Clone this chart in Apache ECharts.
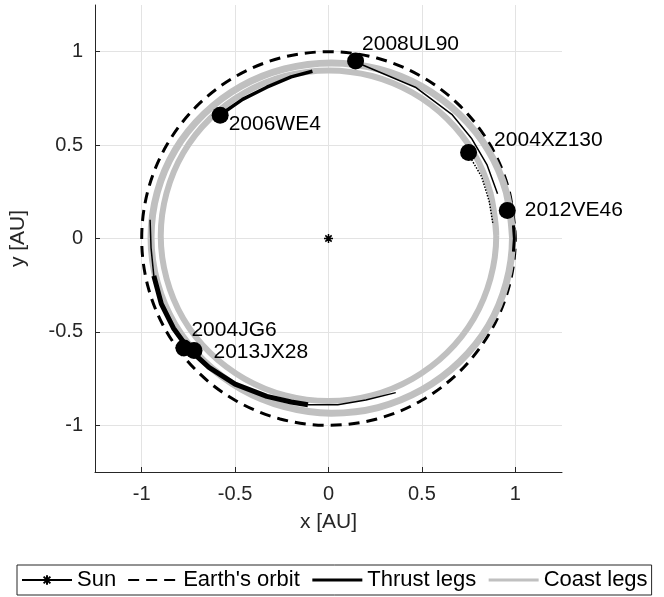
<!DOCTYPE html>
<html>
<head>
<meta charset="utf-8">
<script src="https://cdn.jsdelivr.net/npm/echarts@6/dist/echarts.min.js"></script>
<style>
  html, body { margin: 0; padding: 0; background: #fff; }
  #chart { width: 664px; height: 597px; }
</style>
</head>
<body>
<div id="chart"></div>
<script>
// axis ticks [AU]
var tickValues = [-1, -0.5, 0, 0.5, 1];

// Sun at the origin
var sunPos = [[0, 0]];

// Earth's orbit, read every 15 deg
var earthOrbit = [
  [1, 0], [0.966, 0.259], [0.866, 0.5], [0.707, 0.707], [0.5, 0.866], [0.259, 0.966],
  [0, 1], [-0.259, 0.966], [-0.5, 0.866], [-0.707, 0.707], [-0.866, 0.5], [-0.966, 0.259],
  [-1, 0], [-0.966, -0.259], [-0.866, -0.5], [-0.707, -0.707], [-0.5, -0.866], [-0.259, -0.966],
  [0, -1], [0.259, -0.966], [0.5, -0.866], [0.707, -0.707], [0.866, -0.5], [0.966, -0.259],
  [1, 0], [0.966, 0.259]
];

// coast legs (outer and inner revolutions)
var coastOuter = [
  [0.985, 0.005], [0.952, 0.247], [0.855, 0.473], [0.699, 0.666], [0.498, 0.815], [0.265, 0.908],
  [0.015, 0.94], [-0.235, 0.908], [-0.468, 0.815], [-0.667, 0.666], [-0.821, 0.473], [-0.917, 0.247],
  [-0.95, 0.005], [-0.917, -0.237], [-0.821, -0.463], [-0.667, -0.656], [-0.468, -0.805], [-0.235, -0.9],
  [0.015, -0.935], [0.265, -0.905], [0.5, -0.81], [0.702, -0.66], [0.857, -0.466], [0.952, -0.238],
  [0.985, 0.005], [0.952, 0.247]
];
var coastInner = [
  [0.898, 0.015], [0.867, 0.244], [0.778, 0.458], [0.635, 0.641], [0.449, 0.781], [0.232, 0.87],
  [0, 0.9], [-0.232, 0.87], [-0.449, 0.781], [-0.635, 0.641], [-0.778, 0.458], [-0.867, 0.244],
  [-0.898, 0.015], [-0.867, -0.214], [-0.778, -0.428], [-0.635, -0.611], [-0.449, -0.751], [-0.232, -0.84],
  [0, -0.87], [0.232, -0.84], [0.449, -0.751], [0.635, -0.611], [0.778, -0.428], [0.867, -0.214],
  [0.898, 0.015], [0.867, 0.244]
];

// thrust legs
var thrustWE4 = [[-0.575, 0.665], [-0.46, 0.745], [-0.33, 0.81], [-0.2, 0.865], [-0.086, 0.895]];
var thrustUL90 = [[0.145, 0.945], [0.24, 0.905], [0.465, 0.81], [0.66, 0.665], [0.765, 0.537], [0.848, 0.396], [0.905, 0.24]];
var thrustXZ130 = [[0.75, 0.45], [0.82, 0.33], [0.86, 0.2], [0.88, 0.08]];
var thrustLeftThin = [[-0.955, 0.1], [-0.95, -0.05], [-0.935, -0.2]];
var thrustLeft = [[-0.935, -0.2], [-0.895, -0.35], [-0.83, -0.48], [-0.75, -0.59], [-0.64, -0.69],
  [-0.5, -0.78], [-0.33, -0.845], [-0.2, -0.875], [-0.11, -0.89]];
var thrustBottom = [[-0.11, -0.89], [0.05, -0.89], [0.2, -0.865], [0.36, -0.825]];
var thrustRight = [[0.99, 0.07], [0.995, 0], [0.99, -0.07]];

// asteroids
var asteroidNames = ['2008UL90', '2006WE4', '2004XZ130', '2012VE46', '2004JG6', '2013JX28'];
var asteroidX = [0.145, -0.58, 0.75, 0.957, -0.774, -0.72];
var asteroidY = [0.95, 0.66, 0.46, 0.15, -0.586, -0.60];

// label placement (pixels, relative to dot)
var labelOffset = {
  '2008UL90': [-2, -17],
  '2006WE4': [0, 9],
  '2004XZ130': [17, -12],
  '2012VE46': [9, 0],
  '2004JG6': [-1, -18],
  '2013JX28': [11, 2]
};

var font = 'Liberation Sans, Arial, Helvetica, sans-serif';
var gray = '#c0c0c0';

var chart = echarts.init(document.getElementById('chart'));

var asteroidData = asteroidNames.map(function (n, i) {
  return {
    name: n,
    value: [asteroidX[i], asteroidY[i]],
    label: { offset: labelOffset[n] }
  };
});

function thrust(data, w, type) {
  return {
    name: 'Thrust legs', type: 'line', data: data, symbol: 'none', z: 4,
    lineStyle: { color: '#000', width: w, type: type || 'solid' }, itemStyle: { color: '#000' }
  };
}

function coast(data, w) {
  return {
    name: 'Coast legs', type: 'line', data: data, symbol: 'none', smooth: 0.34, z: 3,
    lineStyle: { color: gray, width: w }, itemStyle: { color: gray }
  };
}

function axis(name, gap) {
  return {
    type: 'value', min: -1.25, max: 1.25,
    name: name, nameLocation: 'middle', nameGap: gap,
    nameTextStyle: { fontFamily: font, fontSize: 21, color: '#262626' },
    axisLine: { onZero: false, lineStyle: { color: '#262626', width: 1 } },
    axisTick: { inside: true, length: 5, customValues: tickValues, lineStyle: { color: '#262626' } },
    axisLabel: { customValues: tickValues, fontFamily: font, fontSize: 20, color: '#262626', margin: 12 },
    splitLine: { show: true, lineStyle: { color: '#e3e3e3', width: 1 } }
  };
}

var noSymbol = { opacity: 0 };

chart.setOption({
  animation: false,
  backgroundColor: '#fff',
  grid: { left: 95, right: 102, top: 5, bottom: 125 },
  xAxis: axis('x [AU]', 40),
  yAxis: axis('y [AU]', 66),
  legend: {
    data: [
      { name: 'Sun' },
      { name: "Earth's orbit", itemStyle: noSymbol },
      { name: 'Thrust legs', itemStyle: noSymbol, lineStyle: { width: 3 } },
      { name: 'Coast legs', itemStyle: noSymbol, lineStyle: { width: 3 } }
    ],
    left: 17, right: 0, bottom: 2,
    itemWidth: 50, itemHeight: 12, itemGap: 11,
    padding: [4, 4],
    borderColor: '#262626', borderWidth: 1,
    textStyle: { fontFamily: font, fontSize: 22, color: '#000' }
  },
  series: [
    {
      name: "Earth's orbit", type: 'line', data: earthOrbit, symbol: 'none', smooth: 0.34, z: 2,
      lineStyle: { color: '#000', width: 3, type: [11, 7] }, itemStyle: { color: '#000' }
    },
    coast(coastOuter, 7),
    coast(coastInner, 6),
    thrust(thrustWE4, 3.5),
    thrust(thrustUL90, 1.5),
    thrust(thrustXZ130, 1.5, 'dotted'),
    thrust(thrustLeftThin, 1.5),
    thrust(thrustLeft, 5),
    thrust(thrustBottom, 1.5),
    thrust(thrustRight, 3),
    {
      name: 'Sun', type: 'line', data: sunPos, z: 5,
      symbol: 'path://M0,-10L0,10M-10,0L10,0M-7,-7L7,7M-7,7L7,-7', symbolSize: 9, showSymbol: true,
      lineStyle: { color: '#000', width: 1 },
      itemStyle: { color: 'none', borderColor: '#000', borderWidth: 1.5 }
    },
    {
      name: 'asteroids', type: 'scatter', data: asteroidData, z: 6,
      symbolSize: 17, itemStyle: { color: '#000', opacity: 1 },
      label: {
        show: true, position: 'right', distance: 0,
        formatter: '{b}', fontFamily: font, fontSize: 21, color: '#000'
      }
    }
  ]
});
</script>
</body>
</html>
